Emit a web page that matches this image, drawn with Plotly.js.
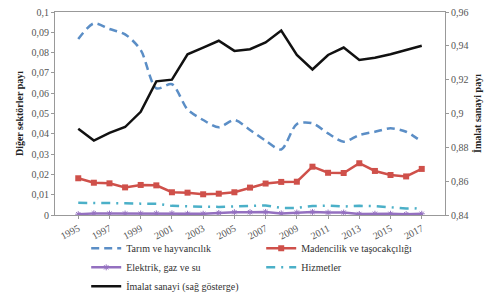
<!DOCTYPE html>
<html><head><meta charset="utf-8">
<script src="https://cdn.plot.ly/plotly-3.0.1.min.js"></script>
<style>html,body{margin:0;padding:0;background:#fff}#c{width:494px;height:296px}</style>
</head><body><div id="c"></div>
<script>
const years = ['1995','1996','1997','1998','1999','2000','2001','2002','2003','2004','2005','2006','2007','2008','2009','2010','2011','2012','2013','2014','2015','2016','2017'];
const tarim = [0.0867,0.0944,0.0916,0.089,0.0813,0.0624,0.0644,0.0520,0.0468,0.0432,0.0468,0.0419,0.0366,0.0323,0.0448,0.0452,0.0402,0.0361,0.0394,0.0410,0.0427,0.0410,0.0361];
const madencilik = [0.0181,0.0159,0.0156,0.0136,0.0148,0.0146,0.0112,0.0110,0.0102,0.0105,0.0112,0.0135,0.0155,0.0163,0.0164,0.0238,0.0208,0.0207,0.0255,0.0217,0.0197,0.0190,0.0227];
const elektrik = [0.0004,0.0008,0.0007,0.0007,0.0007,0.0008,0.0008,0.0006,0.0006,0.0010,0.0014,0.0014,0.0015,0.0008,0.0012,0.0015,0.0012,0.0012,0.0005,0.0006,0.0006,0.0004,0.0006];
const hizmetler = [0.0060,0.0060,0.0058,0.0058,0.0056,0.0055,0.0045,0.0042,0.0041,0.0040,0.0042,0.0045,0.0047,0.0035,0.0035,0.0044,0.0046,0.0042,0.0045,0.0044,0.0038,0.0032,0.0033];
const imalat = [0.891,0.884,0.8885,0.892,0.901,0.919,0.920,0.935,0.939,0.943,0.937,0.938,0.942,0.949,0.9346,0.926,0.9346,0.939,0.9316,0.933,0.935,0.9375,0.940];
const tickYears = ['1995','1997','1999','2001','2003','2005','2007','2009','2011','2013','2015','2017'];

const serif = 'Liberation Serif, Times New Roman, serif';
const traces = [
  {x: years, y: tarim, name: 'Tarım ve hayvancılık', type: 'scatter', mode: 'lines',
   line: {color: '#5b8ec6', width: 2.5, dash: '8px,5px', shape: 'spline', smoothing: 0.8}},
  {x: years, y: madencilik, name: 'Madencilik ve taşocakçılığı', type: 'scatter', mode: 'lines+markers',
   line: {color: '#cf504a', width: 2.5}, marker: {symbol: 'square', size: 6, color: '#cf504a'}},
  {x: years, y: elektrik, name: 'Elektrik, gaz ve su', type: 'scatter', mode: 'lines+markers',
   line: {color: '#9470c0', width: 2.5}, marker: {symbol: 'asterisk-open', size: 5, color: '#9470c0', line: {width: 1, color: '#9470c0'}}},
  {x: years, y: hizmetler, name: 'Hizmetler', type: 'scatter', mode: 'lines',
   line: {color: '#4bb0c8', width: 2.5, dash: '9px,6px,2px,6px'}},
  {x: years, y: imalat, name: 'İmalat sanayi (sağ gösterge)', type: 'scatter', mode: 'lines', yaxis: 'y2',
   line: {color: '#111111', width: 2.5}}
];
const layout = {
  width: 494, height: 296,
  margin: {l: 55, r: 49, t: 12, b: 81, autoexpand: false},
  separators: ', ',
  paper_bgcolor: '#fff', plot_bgcolor: '#fff',
  font: {family: serif, size: 10, color: '#555'},
  showlegend: true,
  xaxis: {type: 'category', tickmode: 'array', tickvals: tickYears, ticktext: tickYears, automargin: false,
    tickangle: -28, showgrid: false, showline: true, linecolor: '#999', linewidth: 1, mirror: true,
    ticks: 'outside', ticklen: 3, tickcolor: '#999', zeroline: false,
    tickfont: {family: serif, size: 10, color: '#555'}},
  yaxis: {range: [0, 0.1], dtick: 0.01, showgrid: false, showline: true, linecolor: '#999', linewidth: 1,
    mirror: true, ticks: 'outside', ticklen: 3, tickcolor: '#999', zeroline: false, automargin: false,
    tickfont: {family: serif, size: 10, color: '#555'},
    title: {text: 'Diğer sektörler payı', font: {family: serif, size: 10, color: '#222', weight: 'bold'}, standoff: 6}},
  yaxis2: {range: [0.84, 0.96], dtick: 0.02, overlaying: 'y', side: 'right', showgrid: false, showline: true,
    linecolor: '#999', linewidth: 1, ticks: 'outside', ticklen: 3, tickcolor: '#999', zeroline: false, automargin: false,
    tickfont: {family: serif, size: 10, color: '#555'},
    title: {text: 'İmalat sanayi payı', font: {family: serif, size: 10, color: '#222', weight: 'bold'}, standoff: 6}},
  legend: {orientation: 'h', x: 0.08, xanchor: 'left', yref: 'container', y: 0.21, yanchor: 'top',
    entrywidth: 130, entrywidthmode: 'pixels', tracegroupgap: 0, itemwidth: 30,
    font: {family: serif, size: 10, color: '#333'}, bgcolor: 'rgba(0,0,0,0)'}
};
Plotly.newPlot('c', traces, layout, {displayModeBar: false, staticPlot: true});
</script></body></html>
